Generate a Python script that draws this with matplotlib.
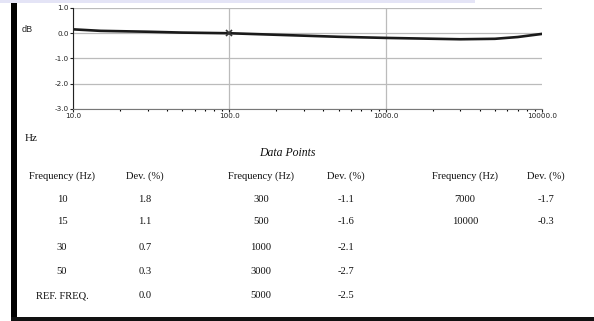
import numpy as np
from matplotlib import pyplot as plt
from matplotlib.patches import Rectangle

# calibration data points
freq = [10, 15, 30, 50, 100, 300, 500, 1000, 3000, 5000, 7000, 10000]
dev = [1.8, 1.1, 0.7, 0.3, 0.0, -1.1, -1.6, -2.1, -2.7, -2.5, -1.7, -0.3]
ref_freq = 100

# table columns as printed
col_freq = [["10", "15", "30", "50", "REF. FREQ."],
            ["300", "500", "1000", "3000", "5000"],
            ["7000", "10000"]]
col_dev = [["1.8", "1.1", "0.7", "0.3", "0.0"],
           ["-1.1", "-1.6", "-2.1", "-2.7", "-2.5"],
           ["-1.7", "-0.3"]]

y_ticks = [1.0, 0.0, -1.0, -2.0, -3.0]
x_ticks = [10, 100, 1000, 10000]

db = 20 * np.log10(1 + np.array(dev) / 100)

fig = plt.figure(figsize=(5.94, 3.21), dpi=100)
W, H = 594, 321

# frame decorations of the scanned page
fig.add_artist(Rectangle((0, 1 - 3 / H), 475 / W, 3 / H, transform=fig.transFigure,
                         color='#e4e4f6', lw=0))
fig.add_artist(Rectangle((11 / W, 0), 6 / W, 1 - 3 / H, transform=fig.transFigure,
                         color='black', lw=0))
fig.add_artist(Rectangle((11 / W, 0), 1, 4 / H, transform=fig.transFigure,
                         color='#111111', lw=0))

ax = fig.add_axes([73 / W, 1 - 109 / H, 469 / W, 101 / H])
ax.set_xscale('log')
ax.set_xlim(10, 10000)
ax.set_ylim(-3.0, 1.0)
ax.plot(freq, db, color='#1a1a1a', lw=1.9)
ax.plot([ref_freq], [db[freq.index(ref_freq)]], marker='x', color='#333333',
        ms=5, mew=1.2, ls='none')

ax.set_yticks(y_ticks)
ax.set_yticklabels(['%.1f' % v for v in y_ticks])
ax.set_xticks(x_ticks)
ax.set_xticklabels(['%.1f' % v for v in x_ticks])
ax.tick_params(labelsize=5.2, colors='#222222', length=2, width=0.8, pad=1)
ax.tick_params(axis='x', which='minor', length=1.5, width=0.8)
ax.grid(True, axis='y', color='#bbbbbb', lw=0.9)
ax.grid(True, axis='x', which='major', color='#bbbbbb', lw=0.9)
ax.get_xgridlines()[-1].set_visible(False)
for s in ['top', 'right']:
    ax.spines[s].set_visible(False)
ax.spines['left'].set_color('#222222')
ax.spines['bottom'].set_color('#777777')

fig.text(22 / W, 1 - 29 / H, 'dB', fontsize=6.5, family='Liberation Sans',
         color='#222222', va='center')
fig.text(25 / W, 1 - 138 / H, 'Hz', fontsize=8, family='Liberation Serif',
         color='#111111', va='center')

serif = 'Liberation Serif'
fig.text(287 / W, 1 - 153 / H, 'Data Points', fontsize=8.5, family=serif,
         style='italic', ha='center', va='center', color='#111111')

freq_x = [62, 261, 465]
dev_x = [145, 346, 546]
head_y = 176
row_y = [199, 222, 247, 272, 296]
for c in range(3):
    fig.text(freq_x[c] / W, 1 - head_y / H, 'Frequency (Hz)', fontsize=7.6, family=serif,
             ha='center', va='center', color='#111111')
    fig.text(dev_x[c] / W, 1 - head_y / H, 'Dev. (%)', fontsize=7.6, family=serif,
             ha='center', va='center', color='#111111')
    for r in range(len(col_freq[c])):
        fig.text(freq_x[c] / W, 1 - row_y[r] / H, col_freq[c][r], fontsize=7.6,
                 family=serif, ha='center', va='center', color='#111111')
        fig.text(dev_x[c] / W, 1 - row_y[r] / H, col_dev[c][r], fontsize=7.6,
                 family=serif, ha='center', va='center', color='#111111')

fig.savefig('out.png', dpi=100)
